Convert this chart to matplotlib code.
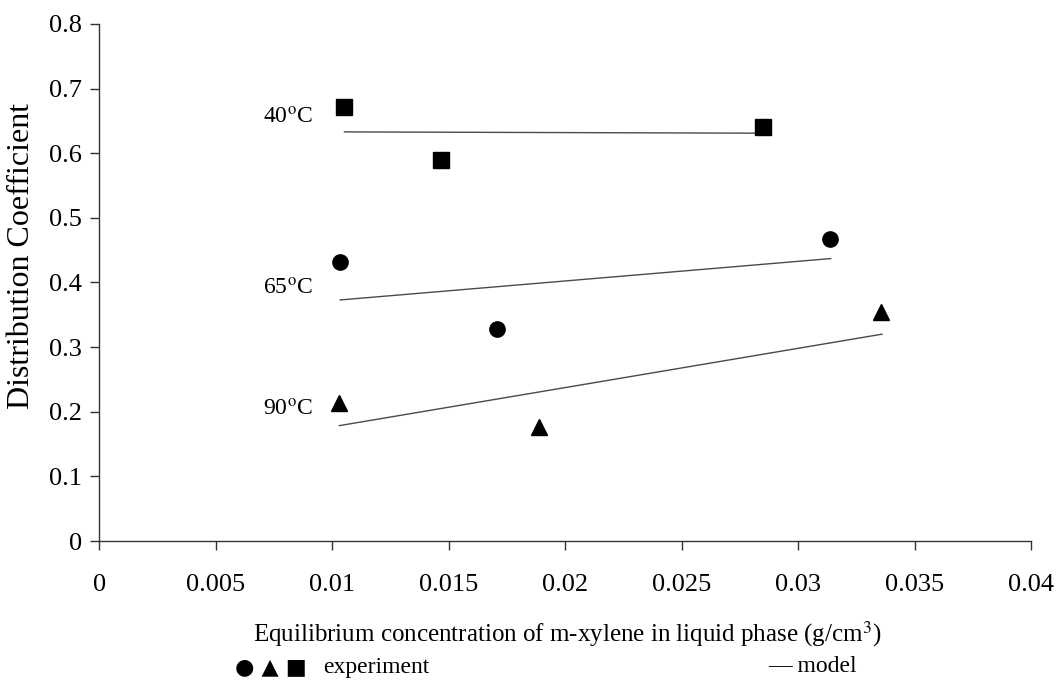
import numpy as np
import matplotlib.pyplot as plt

plt.rcParams['font.family'] = ['Liberation Serif', 'DejaVu Sans']
plt.rcParams['mathtext.fontset'] = 'stix'

# experimental points
x_40 = [0.01048, 0.01467, 0.02850]
k_40 = [0.672, 0.590, 0.641]
x_65 = [0.01034, 0.01709, 0.03137]
k_65 = [0.431, 0.328, 0.467]
x_90 = [0.01028, 0.01889, 0.03357]
k_90 = [0.214, 0.177, 0.355]

# model lines (end points)
xm_40 = [0.01052, 0.02850]
km_40 = [0.633, 0.631]
xm_65 = [0.01034, 0.03140]
km_65 = [0.373, 0.437]
xm_90 = [0.01030, 0.03360]
km_90 = [0.1785, 0.320]

labels = ['40$^{\\rm o}$C', '65$^{\\rm o}$C', '90$^{\\rm o}$C']
label_y = [0.655, 0.390, 0.203]

xticks = np.arange(0, 0.0401, 0.005)
xticklabels = ['0', '0.005', '0.01', '0.015', '0.02', '0.025', '0.03', '0.035', '0.04']
yticks = np.arange(0, 0.81, 0.1)
yticklabels = ['0', '0.1', '0.2', '0.3', '0.4', '0.5', '0.6', '0.7', '0.8']

fig = plt.figure(figsize=(10.56, 6.83), dpi=100)
ax = fig.add_axes([0.0942, 0.2079, 0.8821, 0.757])

lc = '#4a4a4a'
ax.plot(xm_40, km_40, color=lc, lw=1.0)
ax.plot(xm_65, km_65, color=lc, lw=1.0)
ax.plot(xm_90, km_90, color=lc, lw=1.0)

ax.plot(x_40, k_40, 's', color='black', ms=11, ls='none')
ax.plot(x_65, k_65, 'o', color='black', ms=11, ls='none')
ax.plot(x_90, k_90, '^', color='black', ms=12, ls='none')

for lab, yy in zip(labels, label_y):
    ax.text(0.00915, yy, lab, ha='right', va='center', fontsize=17)

ax.set_xlim(0, 0.04)
ax.set_ylim(0, 0.8)
ax.set_xticks(xticks)
ax.set_xticklabels(xticklabels)
ax.set_yticks(yticks)
ax.set_yticklabels(yticklabels)
ax.tick_params(axis='both', labelsize=19, length=6.5, width=1.0, color='#333333')
ax.tick_params(axis='x', pad=17)
ax.tick_params(axis='y', pad=6)

ax.spines['top'].set_visible(False)
ax.spines['right'].set_visible(False)
for s in ['left', 'bottom']:
    ax.spines[s].set_color('#333333')
    ax.spines[s].set_linewidth(1.0)

fig.text(22 / 1056, 1 - 256 / 683, 'Distribution Coefficient', rotation=90,
         ha='center', va='center', fontsize=23)

fig.text(567 / 1056, 1 - 634 / 683,
         'Equilibrium concentration of m-xylene in liquid phase (g/cm$^3$)',
         ha='center', va='center', fontsize=18)
fig.text(235 / 1056, 1 - 667 / 683, '\u25cf \u25b2 \u25a0', ha='left', va='center',
         fontsize=16, family=['DejaVu Sans'])
fig.text(323 / 1056, 1 - 667 / 683, 'experiment', ha='left', va='center', fontsize=17)
fig.text(768 / 1056, 1 - 667 / 683, '\u2014 model', ha='left', va='center', fontsize=17)

fig.savefig('out.png', dpi=100)
